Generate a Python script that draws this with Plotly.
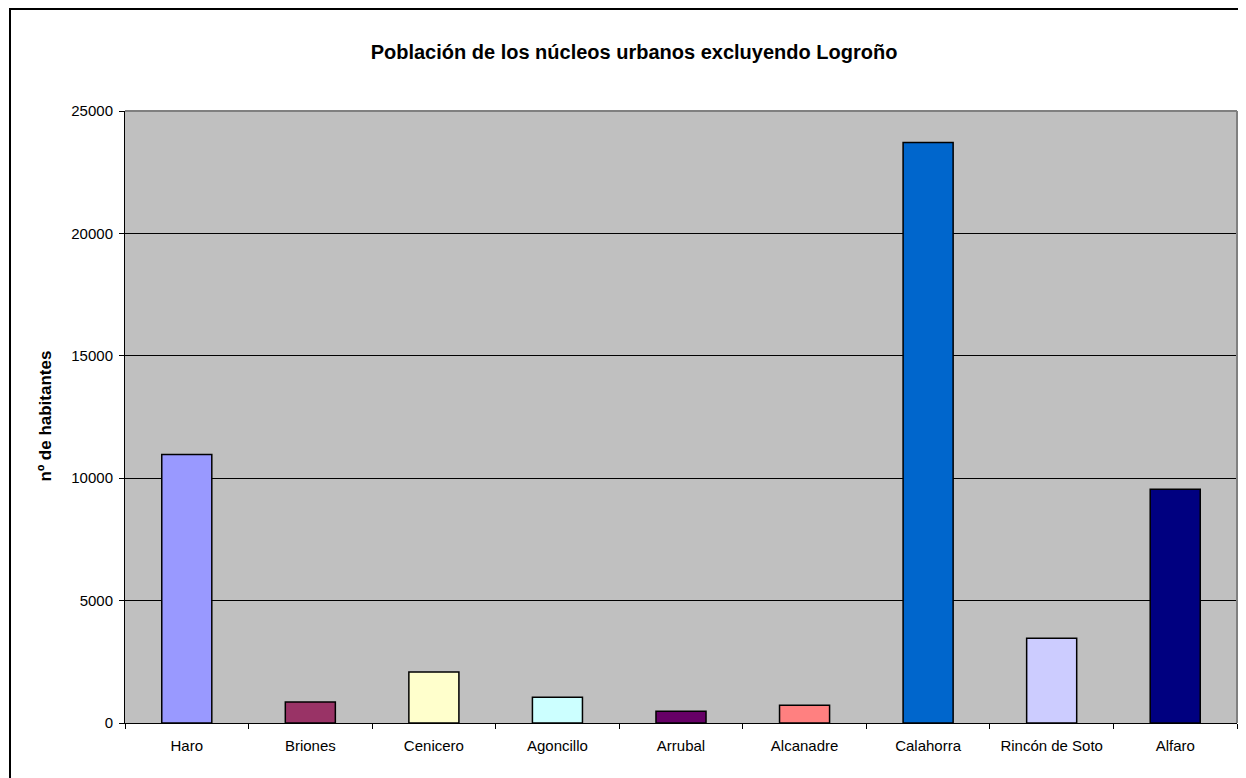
import plotly.graph_objects as go

categories = ["Haro", "Briones", "Cenicero", "Agoncillo", "Arrubal", "Alcanadre",
              "Calahorra", "Rincón de Soto", "Alfaro"]
values = [10970, 860, 2085, 1050, 475, 720, 23710, 3460, 9550]
colors = ["#9999FF", "#993366", "#FFFFCC", "#CCFFFF", "#660066", "#FF8080",
          "#0066CC", "#CCCCFF", "#000080"]
y_ticks = [0, 5000, 10000, 15000, 20000, 25000]
y_tick_labels = ["0", "5000", "10000", "15000", "20000", "25000"]

# page body has an 8px default margin; figure is sized so the plot area lands
# at x 125..1237, y 111..723 of the 1246x778 window
W, H, OFF = 1238, 770, 8

fig = go.Figure()
fig.add_trace(go.Bar(
    x=categories, y=values,
    marker=dict(color=colors, line=dict(color="black", width=1.5)),
    showlegend=False,
))

fig.update_layout(
    width=W, height=H,
    margin=dict(l=125 - OFF, r=9, t=111 - OFF, b=55),
    paper_bgcolor="white",
    plot_bgcolor="#C0C0C0",
    bargap=0.595,
    font=dict(family="Liberation Sans, Arial, sans-serif", size=15, color="black"),
    title=dict(
        text="<b>Población de los núcleos urbanos excluyendo Logroño</b>",
        x=(634 - OFF) / W, xanchor="center",
        y=1 - (52 - OFF) / H, yanchor="middle",
        font=dict(size=20, color="black"),
    ),
    xaxis=dict(
        showline=True, linecolor="black", linewidth=1,
        ticks="outside", tickson="boundaries", ticklen=5, tickcolor="black",
        showgrid=False, mirror=False,
        tickfont=dict(size=15),
        ticklabelstandoff=9,
    ),
    yaxis=dict(
        range=[0, 25000], tickvals=y_ticks, ticktext=y_tick_labels,
        showline=True, linecolor="black", linewidth=1,
        ticks="outside", ticklen=5, tickcolor="black",
        showgrid=True, gridcolor="black", gridwidth=1,
        zeroline=False,
        tickfont=dict(size=15),
        ticklabelstandoff=3,
    ),
    annotations=[dict(
        text="<b>nº de habitantes</b>",
        xref="paper", yref="paper",
        x=(45 - 125) / 1112, y=(723 - 416.5) / 612,
        textangle=-90, showarrow=False,
        font=dict(size=17, color="black"),
        xanchor="center", yanchor="middle",
    )],
    shapes=[
        dict(type="line", xref="paper", yref="paper", x0=0, x1=1, y0=1, y1=1,
             line=dict(color="#808080", width=2)),
        dict(type="line", xref="paper", yref="paper", x0=1, x1=1, y0=0, y1=1,
             line=dict(color="#808080", width=2)),
        dict(type="rect", xref="paper", yref="paper",
             x0=(10 - 125) / 1112, x1=1.05,
             y0=-0.2, y1=1 + (111 - 9) / 612,
             line=dict(color="black", width=2), layer="above"),
    ],
)

fig.write_html("out.html")
